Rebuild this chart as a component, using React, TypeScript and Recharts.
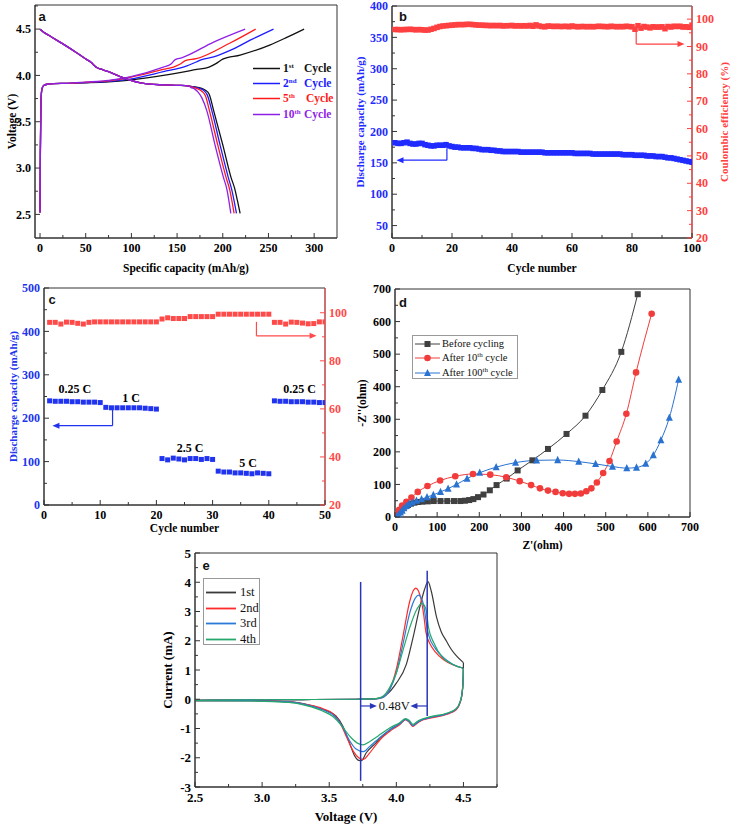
import React from "react";
import {
  LineChart,
  Line,
  XAxis,
  YAxis,
  ReferenceArea,
  ReferenceLine,
  ReferenceDot,
} from "recharts";

const SERIF = '"Liberation Serif", "Times New Roman", serif';
const SANS = '"Liberation Sans", Arial, sans-serif';
const FRAME = "#333";

// ---------- panel a: charge / discharge profiles (mAh/g, V)
const aChargeStart = [[0, 2.52], [0.4, 3.2], [1, 3.7], [2, 3.85], [4, 3.89], [8, 3.905], [15, 3.912], [30, 3.915]];
const aCharge1 = [[50, 3.92], [75, 3.93], [98.5, 3.95], [135, 4.0], [171.5, 4.065], [185, 4.09], [193, 4.13], [200, 4.175], [219, 4.22], [252, 4.33], [270, 4.41], [289, 4.5]];
const aCharge2 = [[50, 3.923], [75, 3.936], [98.5, 3.96], [135, 4.04], [160, 4.1], [171, 4.145], [177, 4.17], [190, 4.2], [208, 4.27], [230, 4.38], [255.5, 4.5]];
const aCharge5 = [[50, 3.926], [75, 3.942], [98.5, 3.98], [135, 4.065], [146, 4.09], [153, 4.12], [159, 4.16], [171, 4.18], [208, 4.35], [236, 4.5]];
const aCharge10 = [[50, 3.928], [75, 3.946], [98.5, 3.985], [135, 4.09], [143, 4.12], [148, 4.17], [155, 4.19], [190, 4.36], [224.5, 4.5]];
const aDischargeTop = [[0, 4.5], [1, 4.49], [10, 4.43], [25, 4.34], [40, 4.245], [52, 4.165], [56, 4.14], [59, 4.11], [62, 4.085], [66, 4.07], [75, 4.04], [87, 3.99], [98.5, 3.95], [110, 3.92], [120, 3.905], [135, 3.898], [153, 3.893], [163, 3.885]];
const aDischarge1 = [[170, 3.875], [176, 3.862], [181, 3.84], [185, 3.8], [190, 3.62], [200, 3.25], [209, 2.9], [213, 2.78], [216, 2.65], [219, 2.51]];
const aDischarge2 = [[168, 3.875], [174, 3.862], [179, 3.84], [183, 3.79], [188, 3.62], [197, 3.25], [206, 2.9], [210, 2.76], [215, 2.51]];
const aDischarge5 = [[167, 3.873], [172, 3.858], [177, 3.83], [181, 3.78], [185.4, 3.62], [194.5, 3.25], [203.6, 2.9], [207.5, 2.77], [212.4, 2.51]];
const aDischarge10 = [[165, 3.87], [169, 3.855], [173, 3.82], [177, 3.76], [182.5, 3.62], [191.5, 3.25], [200.7, 2.9], [204.5, 2.77], [208.8, 2.51]];
const aNames = [["1", "st"], ["2", "nd"], ["5", "th"], ["10", "th"]];
const aColors = ["#111111", "#1c1cff", "#ff1a1a", "#8f1fe6"];
const aXTicks = [0, 25, 50, 75, 100, 125, 150, 175, 200, 225, 250, 275, 300];
const aYTicks = [2.5, 2.75, 3, 3.25, 3.5, 3.75, 4, 4.25, 4.5, 4.75];

// ---------- panel b: cycling at fixed rate, cycles 1..100
const bCapacity = [
  182, 181, 181, 182, 183, 181, 180, 180, 181, 181,
  179, 178, 177, 177, 178, 178, 178, 179, 177, 176,
  175, 175, 174, 174, 174, 174, 173, 173, 172, 171,
  171, 171, 170, 170, 169, 169, 168, 168, 168, 168,
  168, 168, 167, 167, 167, 167, 167, 167, 167, 167,
  166, 166, 166, 166, 166, 166, 166, 166, 166, 166,
  165, 165, 165, 165, 165, 165, 164, 164, 164, 164,
  164, 164, 164, 164, 164, 164, 163, 163, 163, 163,
  162, 162, 162, 162, 161, 161, 161, 160, 160, 160,
  159, 158, 158, 157, 156, 155, 154, 153, 152, 151,
];
const bEfficiency = [
  96.2, 96.2, 96.1, 96.2, 96.2, 96.3, 96.2, 96.1, 96.2, 96.1,
  96.0, 96.0, 96.3, 96.6, 97.0, 97.3, 97.5, 97.6, 97.7, 97.8,
  97.9, 98.0, 98.0, 98.0, 98.1, 98.1, 98.0, 97.9, 97.8, 97.8,
  97.7, 97.7, 97.6, 97.7, 97.6, 97.7, 97.5, 97.6, 97.6, 97.7,
  97.5, 97.6, 97.5, 97.6, 97.5, 97.7, 97.4, 97.9, 97.5, 97.3,
  97.2, 97.5, 97.4, 97.3, 97.4, 97.3, 97.3, 97.4, 97.2, 97.5,
  97.3, 97.2, 97.3, 97.3, 97.2, 97.3, 97.2, 97.3, 97.4, 97.3,
  97.3, 97.2, 97.4, 97.3, 97.2, 97.3, 97.2, 97.4, 97.3, 97.2,
  96.3, 97.6, 96.7, 97.3, 97.1, 96.8, 97.2, 97.1, 97.1, 97.2,
  96.5, 97.3, 97.1, 97.4, 97.3, 97.4, 97.1, 97.2, 97.0, 97.8,
];
const bXTicks = [0, 10, 20, 30, 40, 50, 60, 70, 80, 90, 100];
const bLeftTicks = [50, 75, 100, 125, 150, 175, 200, 225, 250, 275, 300, 325, 350, 375, 400];
const bRightTicks = [20, 25, 30, 35, 40, 45, 50, 55, 60, 65, 70, 75, 80, 85, 90, 95, 100];

// ---------- panel c: rate capability, cycles 1..50
const cCapacity = [
  240, 239, 239, 239, 238, 238, 237, 237, 237, 236,
  225, 224, 224, 224, 224, 224, 224, 223, 222, 221,
  107, 104, 108, 106, 104, 107, 107, 105, 107, 105,
  78, 76, 76, 74, 74, 73, 72, 74, 73, 72,
  240, 239, 239, 238, 238, 238, 237, 237, 236, 236,
];
const cEfficiency = [
  96.0, 96.0, 95.3, 96.1, 96.0, 95.6, 95.3, 96.0, 96.2, 96.2,
  96.2, 96.2, 96.2, 96.2, 96.2, 96.2, 96.2, 96.2, 96.2, 96.2,
  97.4, 97.9, 97.6, 97.6, 97.6, 98.4, 98.4, 98.4, 98.4, 98.4,
  99.4, 99.4, 99.4, 99.4, 99.4, 99.4, 99.4, 99.4, 99.4, 99.4,
  96.0, 96.0, 95.3, 96.1, 96.0, 95.7, 95.4, 95.5, 96.2, 96.2,
];
const cRates = [["0.25 C", 5.5, 267], ["1 C", 15.5, 246], ["2.5 C", 26, 131], ["5 C", 36.3, 97], ["0.25 C", 45.5, 267]];
const cXTicks = [0, 5, 10, 15, 20, 25, 30, 35, 40, 45, 50];
const cLeftTicks = [0, 50, 100, 150, 200, 250, 300, 350, 400, 450, 500];
const cRightTicks = [20, 30, 40, 50, 60, 70, 80, 90, 100];

// ---------- panel d: Nyquist plots (Z', -Z'')
const dBefore = [[5, 5], [10, 15], [15, 22], [20, 28], [25, 33], [31, 37], [38, 41], [46, 44], [55, 46], [65, 47], [78, 48], [92, 49], [108, 49], [124, 49], [140, 49], [155, 49], [166, 50], [176, 52], [186, 55], [197, 61], [210, 69], [225, 82], [241, 98], [265, 118], [291, 143], [326, 174], [363, 209], [407, 255], [452, 311], [492, 390], [537, 507], [576, 684]];
const dAfter10 = [[4, 8], [10, 22], [17, 35], [27, 47], [39, 60], [54, 77], [77, 95], [107, 112], [143, 125], [185, 132], [226, 130], [264, 122], [296, 110], [323, 98], [344, 88], [363, 81], [381, 77], [398, 73], [413, 71], [427, 71], [441, 72], [454, 79], [466, 88], [479, 106], [494, 135], [509, 172], [526, 232], [549, 317], [572, 444], [609, 624]];
const dAfter100 = [[5, 3], [9, 7], [13, 14], [17, 20], [21, 27], [27, 34], [33, 40], [41, 45], [51, 50], [63, 55], [76, 61], [91, 68], [108, 77], [126, 87], [146, 100], [171, 118], [201, 136], [240, 153], [286, 167], [336, 174], [386, 175], [436, 170], [476, 163], [516, 155], [550, 150], [573, 152], [595, 164], [613, 190], [631, 236], [651, 305], [673, 422]];
const dTicks = [0, 50, 100, 150, 200, 250, 300, 350, 400, 450, 500, 550, 600, 650, 700];

// ---------- panel e: cyclic voltammetry (V, mA); anodic and cathodic branches
const e1Up = [[2.5, -0.04], [2.9, -0.02], [3.3, -0.01], [3.7, 0], [3.85, 0.02], [3.925, 0.15], [4.0, 0.55], [4.075, 1.2], [4.124, 2.1], [4.174, 3.13], [4.21, 3.75], [4.236, 4.02], [4.26, 3.7], [4.3, 2.8], [4.335, 2.3], [4.373, 1.99], [4.41, 1.7], [4.448, 1.48], [4.5, 1.25]];
const e1Down = [[2.5, -0.05], [2.9, -0.05], [3.2, -0.09], [3.33, -0.17], [3.45, -0.34], [3.55, -0.57], [3.6, -0.91], [3.65, -1.48], [3.69, -1.94], [3.715, -2.08], [3.74, -2.1], [3.776, -1.83], [3.85, -1.48], [3.88, -1.33], [3.95, -1.05], [4.025, -0.84], [4.069, -0.69], [4.095, -0.76], [4.124, -0.9], [4.15, -0.82], [4.174, -0.74], [4.249, -0.63], [4.373, -0.5], [4.448, -0.33], [4.475, -0.1], [4.488, 0.15], [4.497, 0.6], [4.5, 1.25]];
const e2Up = [[2.5, -0.04], [2.9, -0.02], [3.3, -0.01], [3.7, 0], [3.85, 0.01], [3.9, 0.06], [3.95, 0.34], [4.0, 1.03], [4.05, 2.17], [4.1, 3.35], [4.125, 3.7], [4.145, 3.8], [4.165, 3.7], [4.185, 3.4], [4.205, 2.85], [4.22, 2.3], [4.235, 2.05], [4.25, 1.9], [4.29, 1.62], [4.35, 1.36], [4.42, 1.18], [4.5, 1.06]];
const e2Down = [[2.5, -0.05], [2.9, -0.05], [3.2, -0.08], [3.33, -0.18], [3.45, -0.32], [3.53, -0.5], [3.58, -0.8], [3.63, -1.3], [3.68, -1.78], [3.72, -2.0], [3.755, -2.06], [3.79, -1.9], [3.85, -1.55], [3.88, -1.38], [3.95, -1.1], [4.025, -0.87], [4.069, -0.7], [4.095, -0.78], [4.124, -0.93], [4.15, -0.84], [4.174, -0.76], [4.249, -0.65], [4.373, -0.52], [4.448, -0.35], [4.475, -0.12], [4.488, 0.12], [4.497, 0.55], [4.5, 1.06]];
const e3Up = [[2.5, -0.04], [2.9, -0.02], [3.3, -0.01], [3.7, 0], [3.85, 0.01], [3.9, 0.06], [3.95, 0.32], [4.0, 0.9], [4.05, 1.9], [4.1, 2.95], [4.14, 3.45], [4.165, 3.56], [4.19, 3.42], [4.21, 3.05], [4.225, 2.55], [4.24, 2.2], [4.29, 1.74], [4.35, 1.43], [4.42, 1.2], [4.5, 1.06]];
const e3Down = [[2.5, -0.05], [2.9, -0.05], [3.2, -0.09], [3.33, -0.19], [3.45, -0.36], [3.54, -0.58], [3.6, -0.95], [3.65, -1.4], [3.7, -1.7], [3.755, -1.79], [3.8, -1.62], [3.85, -1.42], [3.88, -1.3], [3.95, -1.05], [4.025, -0.84], [4.069, -0.69], [4.095, -0.76], [4.124, -0.9], [4.15, -0.82], [4.174, -0.74], [4.249, -0.63], [4.373, -0.5], [4.448, -0.33], [4.475, -0.1], [4.488, 0.15], [4.497, 0.58], [4.5, 1.06]];
const e4Up = [[2.5, -0.04], [2.9, -0.02], [3.3, -0.01], [3.7, 0], [3.85, 0.02], [3.9, 0.1], [3.95, 0.4], [4.0, 0.9], [4.05, 1.68], [4.1, 2.45], [4.15, 3.05], [4.19, 3.28], [4.21, 3.2], [4.225, 2.98], [4.24, 2.45], [4.28, 1.92], [4.34, 1.45], [4.42, 1.19], [4.5, 1.06]];
const e4Down = [[2.5, -0.05], [2.9, -0.06], [3.2, -0.11], [3.33, -0.22], [3.45, -0.4], [3.53, -0.6], [3.6, -0.95], [3.66, -1.3], [3.71, -1.5], [3.75, -1.56], [3.8, -1.45], [3.85, -1.3], [3.88, -1.2], [3.95, -0.98], [4.025, -0.8], [4.069, -0.66], [4.095, -0.72], [4.124, -0.86], [4.15, -0.78], [4.174, -0.71], [4.249, -0.6], [4.373, -0.48], [4.448, -0.31], [4.475, -0.08], [4.488, 0.18], [4.497, 0.6], [4.5, 1.06]];
const eNames = ["1st", "2nd", "3rd", "4th"];
const eColors = ["#3a3a3a", "#ff2b2b", "#2b7bd6", "#26a86c"];
const eXTicks = [2.5, 2.75, 3, 3.25, 3.5, 3.75, 4, 4.25, 4.5, 4.75];
const eYTicks = [-3, -2.5, -2, -1.5, -1, -0.5, 0, 0.5, 1, 1.5, 2, 2.5, 3, 3.5, 4, 4.5, 5];

const toXY = (pts: number[][]) => pts.map(([x, y]) => ({ x, y }));

function axisTick(side: "bottom" | "left" | "right", step: number, digits: number, color: string, size = 12, lineColor = FRAME) {
  return (p: any) => {
    const v = Number(p.payload?.value);
    const major = Math.abs(v / step - Math.round(v / step)) < 1e-6;
    const len = major ? 5 : 3;
    const txt = { fill: color, fontFamily: SERIF, fontWeight: 700, fontSize: size };
    const label = v.toFixed(digits);
    if (side === "bottom") {
      return (
        <g>
          <line x1={p.x} x2={p.x} y1={p.y} y2={p.y - len} stroke={lineColor} />
          {major && (
            <text x={p.x} y={p.y + size + 2} textAnchor="middle" {...txt}>
              {label}
            </text>
          )}
        </g>
      );
    }
    if (side === "left") {
      return (
        <g>
          <line x1={p.x} x2={p.x + len} y1={p.y} y2={p.y} stroke={lineColor} />
          {major && (
            <text x={p.x - 4} y={p.y + size * 0.35} textAnchor="end" {...txt}>
              {label}
            </text>
          )}
        </g>
      );
    }
    return (
      <g>
        <line x1={p.x} x2={p.x - len} y1={p.y} y2={p.y} stroke={lineColor} />
        {major && (
          <text x={p.x + 4} y={p.y + size * 0.35} textAnchor="start" {...txt}>
            {label}
          </text>
        )}
      </g>
    );
  };
}

const squareDot = (color: string, s: number) => (p: any) => {
  if (p.cx == null || p.cy == null) return <g key={p.key} />;
  return <rect key={p.key} x={p.cx - s / 2} y={p.cy - s / 2} width={s} height={s} fill={color} />;
};
const triangleDot = (color: string, s: number) => (p: any) => {
  if (p.cx == null || p.cy == null) return <g key={p.key} />;
  const h = s * 0.9;
  return (
    <polygon
      key={p.key}
      points={`${p.cx},${p.cy - h / 2 - 1} ${p.cx - s / 2},${p.cy + h / 2} ${p.cx + s / 2},${p.cy + h / 2}`}
      fill={color}
    />
  );
};
const arrowHead = (dir: "left" | "right", color: string) => (p: any) => {
  const s = dir === "left" ? -1 : 1;
  return (
    <polygon
      points={`${p.cx},${p.cy} ${p.cx - s * 7},${p.cy - 3} ${p.cx - s * 7},${p.cy + 3}`}
      fill={color}
    />
  );
};

const axisTitle = (value: string, size = 11.5, color = "#000") => ({
  value,
  fill: color,
  fontSize: size,
  fontWeight: 700,
  fontFamily: SERIF,
});

function PanelA() {
  return (
    <div style={{ position: "absolute", left: 0, top: 0 }}>
      <LineChart width={345} height={282} margin={{ top: 5, right: 8, bottom: 0, left: 0 }}>
        <XAxis
          dataKey="x" type="number" domain={[-5.5, 325]} allowDataOverflow ticks={aXTicks} interval={0}
          tickSize={0} tickMargin={0} tick={axisTick("bottom", 50, 0, "#000")} height={44} stroke={FRAME}
          label={{ ...axisTitle("Specific capacity (mAh/g)"), position: "insideBottom", offset: 10 }}
        />
        <YAxis
          type="number" domain={[2.245, 4.76]} allowDataOverflow ticks={aYTicks} interval={0}
          tickSize={0} tickMargin={0} tick={axisTick("left", 0.5, 1, "#000")} width={35} stroke={FRAME}
          label={{ ...axisTitle("Voltage (V)"), angle: -90, position: "insideLeft", offset: 12, style: { textAnchor: "middle" } }}
        />
        <ReferenceArea x1={-5.5} x2={325} y1={2.245} y2={4.76} fill="none" stroke={FRAME} ifOverflow="visible" />
        {[aCharge1, aCharge2, aCharge5, aCharge10].map((c, i) => (
          <Line key={`c${i}`} data={toXY(aChargeStart.concat(c))} dataKey="y" type="monotone" stroke={aColors[i]} strokeWidth={1.3} dot={false} activeDot={false} isAnimationActive={false} />
        ))}
        {[aDischarge1, aDischarge2, aDischarge5, aDischarge10].map((d, i) => (
          <Line key={`d${i}`} data={toXY(aDischargeTop.concat(d))} dataKey="y" type="monotone" stroke={aColors[i]} strokeWidth={1.3} dot={false} activeDot={false} isAnimationActive={false} />
        ))}
      </LineChart>
    </div>
  );
}

function PanelB() {
  const data = bCapacity.map((v, i) => ({ cycle: i + 1, cap: v, ce: bEfficiency[i] }));
  const blue = "#1f2bff";
  const red = "#ff4040";
  return (
    <div style={{ position: "absolute", left: 350, top: 0 }}>
      <LineChart width={382} height={282} data={data} margin={{ top: 6, right: 0, bottom: 0, left: 0 }}>
        <XAxis
          dataKey="cycle" type="number" domain={[0, 100]} allowDataOverflow ticks={bXTicks} interval={0}
          tickSize={0} tickMargin={0} tick={axisTick("bottom", 20, 0, "#000")} height={44} stroke={FRAME}
          label={{ ...axisTitle("Cycle number"), position: "insideBottom", offset: 10 }}
        />
        <YAxis
          yAxisId="L" type="number" domain={[30.2, 400]} allowDataOverflow ticks={bLeftTicks} interval={0}
          tickSize={0} tickMargin={0} tick={axisTick("left", 50, 0, blue)} width={42} stroke={FRAME}
          label={{ ...axisTitle("Discharge capacity (mAh/g)", 11, blue), angle: -90, position: "insideLeft", offset: 10, style: { textAnchor: "middle" } }}
        />
        <YAxis
          yAxisId="R" orientation="right" type="number" domain={[20, 104.8]} allowDataOverflow ticks={bRightTicks} interval={0}
          tickSize={0} tickMargin={0} tick={axisTick("right", 10, 0, red, 12, red)} width={40} stroke={red}
          label={{ ...axisTitle("Coulombic efficiency (%)", 11, red), angle: -90, position: "insideRight", offset: 8, style: { textAnchor: "middle" } }}
        />
        <ReferenceArea yAxisId="L" x1={0} x2={100} y1={30.2} y2={400} fill="none" stroke={FRAME} ifOverflow="visible" />
        <Line yAxisId="L" dataKey="cap" stroke="none" dot={squareDot(blue, 5.5)} activeDot={false} isAnimationActive={false} />
        <Line yAxisId="R" dataKey="ce" stroke="none" dot={squareDot(red, 5.5)} activeDot={false} isAnimationActive={false} />
        <ReferenceLine yAxisId="L" segment={[{ x: 18.3, y: 172 }, { x: 18.3, y: 154.2 }]} stroke={blue} strokeWidth={1.2} />
        <ReferenceLine yAxisId="L" segment={[{ x: 18.3, y: 154.2 }, { x: 3, y: 154.2 }]} stroke={blue} strokeWidth={1.2} />
        <ReferenceDot yAxisId="L" x={1.5} y={154.2} r={3} shape={arrowHead("left", blue)} />
        <ReferenceLine yAxisId="R" segment={[{ x: 81.4, y: 95.3 }, { x: 81.4, y: 90.9 }]} stroke={red} strokeWidth={1.2} />
        <ReferenceLine yAxisId="R" segment={[{ x: 81.4, y: 90.9 }, { x: 95.5, y: 90.9 }]} stroke={red} strokeWidth={1.2} />
        <ReferenceDot yAxisId="R" x={97.5} y={90.9} r={3} shape={arrowHead("right", red)} />
      </LineChart>
    </div>
  );
}

function PanelC() {
  const data = cCapacity.map((v, i) => ({ cycle: i + 1, cap: v, ce: cEfficiency[i] }));
  const blue = "#2033ee";
  const red = "#ff4a4a";
  return (
    <div style={{ position: "absolute", left: 0, top: 282 }}>
      <LineChart width={370} height={260} data={data} margin={{ top: 6, right: 5, bottom: 0, left: 0 }}>
        <XAxis
          dataKey="cycle" type="number" domain={[0, 50]} allowDataOverflow ticks={cXTicks} interval={0}
          tickSize={0} tickMargin={0} tick={axisTick("bottom", 10, 0, "#000")} height={37} stroke={FRAME}
          label={{ ...axisTitle("Cycle number"), position: "insideBottom", offset: 10 }}
        />
        <YAxis
          yAxisId="L" type="number" domain={[0, 500]} allowDataOverflow ticks={cLeftTicks} interval={0}
          tickSize={0} tickMargin={0} tick={axisTick("left", 100, 0, blue)} width={44} stroke={FRAME}
          label={{ ...axisTitle("Discharge capacity (mAh/g)", 11, blue), angle: -90, position: "insideLeft", offset: 13, style: { textAnchor: "middle" } }}
        />
        <YAxis
          yAxisId="R" orientation="right" type="number" domain={[20, 110.3]} allowDataOverflow ticks={cRightTicks} interval={0}
          tickSize={0} tickMargin={0} tick={axisTick("right", 20, 0, red, 12, red)} width={40} stroke={red}
        />
        <ReferenceArea yAxisId="L" x1={0} x2={50} y1={0} y2={500} fill="none" stroke={FRAME} ifOverflow="visible" />
        <Line yAxisId="L" dataKey="cap" stroke="none" dot={squareDot(blue, 5)} activeDot={false} isAnimationActive={false} />
        <Line yAxisId="R" dataKey="ce" stroke="none" dot={squareDot(red, 5)} activeDot={false} isAnimationActive={false} />
        {cRates.map(([t, x, y], i) => (
          <ReferenceDot
            key={i} yAxisId="L" x={x as number} y={y as number} r={1} fill="none" stroke="none"
            label={{ value: t as string, position: "center", fill: "#000", fontSize: 12, fontWeight: 700, fontFamily: SERIF }}
          />
        ))}
        <ReferenceLine yAxisId="L" segment={[{ x: 12.2, y: 226 }, { x: 12.2, y: 182.7 }]} stroke={blue} strokeWidth={1.2} />
        <ReferenceLine yAxisId="L" segment={[{ x: 12.2, y: 182.7 }, { x: 2.6, y: 182.7 }]} stroke={blue} strokeWidth={1.2} />
        <ReferenceDot yAxisId="L" x={1.5} y={182.7} r={3} shape={arrowHead("left", blue)} />
        <ReferenceLine yAxisId="R" segment={[{ x: 37.8, y: 96.2 }, { x: 37.8, y: 90.4 }]} stroke={red} strokeWidth={1.2} />
        <ReferenceLine yAxisId="R" segment={[{ x: 37.8, y: 90.4 }, { x: 47.3, y: 90.4 }]} stroke={red} strokeWidth={1.2} />
        <ReferenceDot yAxisId="R" x={48.5} y={90.4} r={3} shape={arrowHead("right", red)} />
      </LineChart>
    </div>
  );
}

function PanelD() {
  const cols = ["#404040", "#f23c3c", "#2a72d0"];
  return (
    <div style={{ position: "absolute", left: 350, top: 282 }}>
      <LineChart width={382} height={275} margin={{ top: 7, right: 42, bottom: 0, left: 0 }}>
        <XAxis
          dataKey="x" type="number" domain={[0, 700]} allowDataOverflow ticks={dTicks} interval={0}
          tickSize={0} tickMargin={0} tick={axisTick("bottom", 100, 0, "#000")} height={40} stroke={FRAME}
          label={{ ...axisTitle("Z'(ohm)"), position: "insideBottom", offset: 8 }}
        />
        <YAxis
          type="number" domain={[0, 700]} allowDataOverflow ticks={dTicks} interval={0}
          tickSize={0} tickMargin={0} tick={axisTick("left", 100, 0, "#000")} width={45} stroke={FRAME}
          label={{ ...axisTitle("-Z''(ohm)"), angle: -90, position: "insideLeft", offset: 12, style: { textAnchor: "middle" } }}
        />
        <ReferenceArea x1={0} x2={700} y1={0} y2={700} fill="none" stroke={FRAME} ifOverflow="visible" />
        <Line data={toXY(dBefore)} dataKey="y" type="monotone" stroke={cols[0]} strokeWidth={1} dot={squareDot(cols[0], 6)} activeDot={false} isAnimationActive={false} />
        <Line data={toXY(dAfter10)} dataKey="y" type="monotone" stroke={cols[1]} strokeWidth={1} dot={{ r: 3.3, fill: cols[1], stroke: "none" }} activeDot={false} isAnimationActive={false} />
        <Line data={toXY(dAfter100)} dataKey="y" type="monotone" stroke={cols[2]} strokeWidth={1} dot={triangleDot(cols[2], 7)} activeDot={false} isAnimationActive={false} />
      </LineChart>
    </div>
  );
}

function PanelE() {
  const ups = [e1Up, e2Up, e3Up, e4Up];
  const downs = [e1Down, e2Down, e3Down, e4Down];
  const navy = "#2a36b8";
  return (
    <div style={{ position: "absolute", left: 140, top: 540 }}>
      <LineChart width={380} height={285} margin={{ top: 13, right: 23, bottom: 0, left: 0 }}>
        <XAxis
          dataKey="x" type="number" domain={[2.5, 4.75]} allowDataOverflow ticks={eXTicks} interval={0}
          tickSize={0} tickMargin={0} tick={axisTick("bottom", 0.5, 1, "#000", 13)} height={38} stroke={FRAME}
          label={{ ...axisTitle("Voltage (V)", 13), position: "insideBottom", offset: 4 }}
        />
        <YAxis
          type="number" domain={[-3, 5]} allowDataOverflow ticks={eYTicks} interval={0}
          tickSize={0} tickMargin={0} tick={axisTick("left", 1, 0, "#000", 13)} width={55} stroke={FRAME}
          label={{ ...axisTitle("Current (mA)", 13), angle: -90, position: "insideLeft", offset: 27, style: { textAnchor: "middle" } }}
        />
        <ReferenceArea x1={2.5} x2={4.75} y1={-3} y2={5} fill="none" stroke={FRAME} ifOverflow="visible" />
        {ups.map((u, i) => (
          <Line key={`u${i}`} data={toXY(u)} dataKey="y" type="monotone" stroke={eColors[i]} strokeWidth={1.2} dot={false} activeDot={false} isAnimationActive={false} />
        ))}
        {downs.map((d, i) => (
          <Line key={`w${i}`} data={toXY(d)} dataKey="y" type="monotone" stroke={eColors[i]} strokeWidth={1.2} dot={false} activeDot={false} isAnimationActive={false} />
        ))}
        <ReferenceLine segment={[{ x: 3.734, y: 4.01 }, { x: 3.734, y: -2.79 }]} stroke={navy} strokeWidth={1.5} />
        <ReferenceLine segment={[{ x: 4.23, y: 4.39 }, { x: 4.23, y: -0.57 }]} stroke={navy} strokeWidth={1.5} />
        <ReferenceLine segment={[{ x: 3.734, y: -0.23 }, { x: 3.81, y: -0.23 }]} stroke={navy} strokeWidth={1.2} />
        <ReferenceDot x={3.855} y={-0.23} r={3} shape={arrowHead("right", navy)} />
        <ReferenceLine segment={[{ x: 4.23, y: -0.23 }, { x: 4.15, y: -0.23 }]} stroke={navy} strokeWidth={1.2} />
        <ReferenceDot x={4.105} y={-0.23} r={3} shape={arrowHead("left", navy)} />
        <ReferenceDot
          x={3.985} y={-0.23} r={1} fill="none" stroke="none"
          label={{ value: "0.48V", position: "center", fill: "#111", fontSize: 12.5, fontFamily: SERIF }}
        />
      </LineChart>
    </div>
  );
}

function LegendA() {
  return (
    <div style={{ position: "absolute", left: 253, top: 61, fontFamily: SERIF, fontWeight: 700, fontSize: 11.5 }}>
      {aNames.map(([n, s], i) => (
        <div key={i} style={{ position: "relative", height: 15.2, width: 90, color: aColors[i] }}>
          <svg width={27} height={15} style={{ position: "absolute", left: 0, top: 0 }}>
            <line x1={0} x2={27} y1={7.5} y2={7.5} stroke={aColors[i]} strokeWidth={1.5} />
          </svg>
          <span style={{ position: "absolute", left: 30, top: 0, lineHeight: "15px", whiteSpace: "nowrap" }}>
            {n}
            <span style={{ fontSize: 7, position: "relative", top: -4 }}>{s}</span>
          </span>
          <span style={{ position: "absolute", left: i === 2 ? 53 : 51, top: 0, lineHeight: "15px" }}>Cycle</span>
        </div>
      ))}
    </div>
  );
}

function LegendD() {
  const rows = [
    { t: ["Before cycling", "", ""], c: "#404040", m: "sq" },
    { t: ["After 10", "th", " cycle"], c: "#f23c3c", m: "ci" },
    { t: ["After 100", "th", " cycle"], c: "#2a72d0", m: "tr" },
  ];
  return (
    <div style={{ position: "absolute", left: 412, top: 335, width: 106, height: 44, border: "1px solid #999", boxSizing: "border-box", fontFamily: SERIF, fontSize: 10.5, color: "#111" }}>
      {rows.map((r, i) => (
        <div key={i} style={{ position: "absolute", left: 0, top: 1 + i * 14.4, height: 14, width: 104 }}>
          <svg width={28} height={14} style={{ position: "absolute", left: 1, top: 0 }}>
            <line x1={1} x2={26} y1={7} y2={7} stroke={r.c} strokeWidth={1} />
            {r.m === "sq" && <rect x={10.5} y={4} width={6} height={6} fill={r.c} />}
            {r.m === "ci" && <circle cx={13.5} cy={7} r={3.3} fill={r.c} />}
            {r.m === "tr" && <polygon points="13.5,3 10,10 17,10" fill={r.c} />}
          </svg>
          <span style={{ position: "absolute", left: 29, top: 0, lineHeight: "14px", whiteSpace: "nowrap" }}>
            {r.t[0]}
            {r.t[1] && <span style={{ fontSize: 7, position: "relative", top: -4 }}>{r.t[1]}</span>}
            {r.t[2]}
          </span>
        </div>
      ))}
    </div>
  );
}

function LegendE() {
  return (
    <div style={{ position: "absolute", left: 203, top: 578, width: 57, height: 67, border: "1px solid #999", boxSizing: "border-box", fontFamily: SERIF, fontSize: 12.5, color: "#111" }}>
      {eNames.map((n, i) => (
        <div key={i} style={{ position: "absolute", left: 0, top: 6 + i * 15.5, height: 15, width: 55 }}>
          <svg width={32} height={15} style={{ position: "absolute", left: 2, top: 0 }}>
            <line x1={0} x2={30} y1={7.5} y2={7.5} stroke={eColors[i]} strokeWidth={1.8} />
          </svg>
          <span style={{ position: "absolute", left: 36, top: 0, lineHeight: "15px" }}>{n}</span>
        </div>
      ))}
    </div>
  );
}

const panelTags: [string, number, number][] = [
  ["a", 42, 16],
  ["b", 403, 16],
  ["c", 52, 299],
  ["d", 403, 302],
  ["e", 206, 565],
];

export default function App() {
  return (
    <div style={{ position: "absolute", left: 0, top: 0, width: 732, height: 825, background: "#fff", overflow: "hidden" }}>
      <PanelA />
      <PanelB />
      <PanelC />
      <PanelD />
      <PanelE />
      <LegendA />
      <LegendD />
      <LegendE />
      {panelTags.map(([t, x, y]) => (
        <div
          key={t}
          style={{ position: "absolute", left: x, top: y, transform: "translate(-50%, -50%)", fontFamily: SANS, fontWeight: 700, fontSize: 13, color: "#111", lineHeight: 1 }}
        >
          {t}
        </div>
      ))}
    </div>
  );
}
